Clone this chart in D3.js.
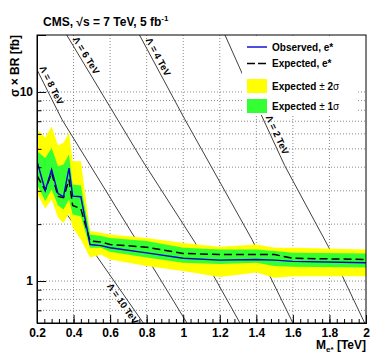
<!DOCTYPE html>
<html>
<head>
<meta charset="utf-8">
<script src="https://cdn.jsdelivr.net/npm/d3@7"></script>
<style>
body { margin: 0; background: #fff; }
text { font-family: "Liberation Sans", Arial, Helvetica, sans-serif; font-weight: bold; fill: #000; }
</style>
</head>
<body>
<div id="chart"></div>
<script>
//Limit data: excited electron mass [TeV] and sigma x BR [fb]
var mass     = [0.2, 0.245, 0.28, 0.315, 0.345, 0.375, 0.395, 0.44, 0.49, 0.55, 0.6, 0.8, 1.0, 1.2, 1.4, 1.5, 1.6, 2.0];
var observed = [4.30, 3.01, 3.89, 2.90, 2.79, 3.96, 2.81, 2.79, 1.56, 1.54, 1.50, 1.41, 1.32, 1.29, 1.30, 1.29, 1.27, 1.25];
var expected = [3.61, 3.02, 3.74, 2.80, 2.76, 3.44, 2.51, 2.41, 1.63, 1.61, 1.56, 1.51, 1.40, 1.38, 1.38, 1.38, 1.32, 1.30];
var oneSigLo = [3.24, 2.65, 3.05, 2.51, 2.39, 2.70, 2.25, 2.20, 1.50, 1.50, 1.43, 1.33, 1.25, 1.23, 1.25, 1.20, 1.19, 1.18];
var oneSigHi = [4.86, 4.48, 5.06, 4.05, 4.13, 4.67, 3.24, 3.20, 1.76, 1.73, 1.69, 1.63, 1.50, 1.47, 1.47, 1.44, 1.41, 1.40];
var twoSigLo = [2.90, 2.42, 2.70, 2.17, 2.03, 2.28, 1.92, 1.66, 1.33, 1.38, 1.30, 1.20, 1.13, 1.05, 1.11, 1.04, 1.06, 1.06];
var twoSigHi = [6.32, 5.74, 6.56, 5.21, 5.38, 6.08, 4.30, 4.30, 1.84, 1.80, 1.76, 1.69, 1.59, 1.52, 1.56, 1.50, 1.50, 1.47];

//Theory curves for each Lambda
var lambdaTeV = [2, 4, 6, 8, 10];
var lambdaMass = [
    [1.2285, 1.3253, 1.5551, 1.7958, 1.9928],
    [0.7607, 1.0096, 1.376, 1.600],
    [0.3625, 0.7728, 1.0643, 1.3105],
    [0.2027, 0.3368, 0.7635, 1.0206],
    [0.2, 0.5266, 0.7815]
];
var lambdaXsec = [
    [20, 12.34, 4.08, 1.51, 0.6],
    [20, 7.14, 1.66, 0.6],
    [20, 4.39, 1.60, 0.6],
    [12.95, 7.14, 1.53, 0.6],
    [3.75, 1.355, 0.6]
];
var lambdaLabelXsec = [5.74, 14.8, 15.0, 10.5, 0.79];

//Axis ticks
var xTicks = [0.2, 0.4, 0.6, 0.8, 1.0, 1.2, 1.4, 1.6, 1.8, 2.0];
var xMinorTicks = d3.range(0.2, 2.001, 0.04);
var yTicks = [1, 10];
var yMinorTicks = [0.6, 0.7, 0.8, 0.9, 2, 3, 4, 5, 6, 7, 8, 9, 20];

//Create SVG dimensions
var svgWidth = 374;
var svgHeight = 359;

var margin = {
    top: 35,
    right: 8,
    bottom: 36,
    left: 37
};

var width = svgWidth - margin.left - margin.right;
var height = svgHeight - margin.top - margin.bottom;

var svg = d3.select("#chart")
    .append("svg")
    .attr("width", svgWidth)
    .attr("height", svgHeight);

var chartGroup = svg.append("g")
    .attr("transform", `translate(${margin.left}, ${margin.top})`);

var xScale = d3.scaleLinear().domain([0.2, 2]).range([0, width]);
var yScale = d3.scaleLog().domain([0.6, 20]).range([height, 0]);

chartGroup.append("clipPath").attr("id", "plotClip")
    .append("rect").attr("width", width).attr("height", height);

//Grid lines
var grid = chartGroup.append("g")
    .attr("stroke", "#8a8a8a")
    .attr("stroke-width", 1)
    .attr("stroke-dasharray", "1,2");

grid.selectAll(".vgrid")
    .data(xTicks.slice(1, -1))
    .enter()
    .append("line")
    .attr("x1", d => xScale(d))
    .attr("x2", d => xScale(d))
    .attr("y1", 0)
    .attr("y2", height);

grid.selectAll(".hgrid")
    .data(yTicks.concat(yMinorTicks).filter(d => d > 0.6 && d < 20))
    .enter()
    .append("line")
    .attr("x1", 0)
    .attr("x2", width)
    .attr("y1", d => yScale(d))
    .attr("y2", d => yScale(d));

//Lambda theory lines
var plotArea = chartGroup.append("g").attr("clip-path", "url(#plotClip)");

var lambdaLine = d3.line()
    .x(d => xScale(d[0]))
    .y(d => yScale(d[1]));

lambdaTeV.forEach(function(lam, i) {
    var pts = lambdaMass[i].map((m, j) => [m, lambdaXsec[i][j]]);
    plotArea.append("path")
        .attr("d", lambdaLine(pts))
        .attr("fill", "none")
        .attr("stroke", "#404040")
        .attr("stroke-width", 1);
});

//Bands
var bandData = mass.map((m, i) => ({m: m, y1: twoSigLo[i], y2: twoSigHi[i], g1: oneSigLo[i], g2: oneSigHi[i]}));

plotArea.append("path")
    .attr("d", d3.area().x(d => xScale(d.m)).y0(d => yScale(d.y1)).y1(d => yScale(d.y2))(bandData))
    .attr("fill", "#ffff00");

plotArea.append("path")
    .attr("d", d3.area().x(d => xScale(d.m)).y0(d => yScale(d.g1)).y1(d => yScale(d.g2))(bandData))
    .attr("fill", "#33ff33");

//Expected and observed limits
var limLine = d3.line().x(d => xScale(d[0])).y(d => yScale(d[1]));

plotArea.append("path")
    .attr("d", limLine(mass.map((m, i) => [m, expected[i]])))
    .attr("fill", "none")
    .attr("stroke", "#000")
    .attr("stroke-width", 1.5)
    .attr("stroke-dasharray", "8,4");

plotArea.append("path")
    .attr("d", limLine(mass.map((m, i) => [m, observed[i]])))
    .attr("fill", "none")
    .attr("stroke", "#0000d0")
    .attr("stroke-width", 1.4);

//Lambda labels along the lines
lambdaTeV.forEach(function(lam, i) {
    var pts = lambdaMass[i].map((m, j) => [xScale(m), yScale(lambdaXsec[i][j])]);
    var ly = yScale(lambdaLabelXsec[i]);
    var k = 0;
    while (k < pts.length - 2 && pts[k + 1][1] < ly) k++;
    var p0 = pts[k], p1 = pts[k + 1];
    var t = (ly - p0[1]) / (p1[1] - p0[1]);
    var lx = p0[0] + t * (p1[0] - p0[0]);
    var ang = Math.atan2(p1[1] - p0[1], p1[0] - p0[0]) * 180 / Math.PI;
    chartGroup.append("text")
        .attr("transform", `translate(${lx}, ${ly}) rotate(${ang})`)
        .attr("text-anchor", "middle")
        .attr("dy", lam === 10 ? "0.95em" : "-0.3em")
        .attr("font-size", "9.5px")
        .text(`Λ = ${lam} TeV`);
});

//Legend
var legend = svg.append("g");
legend.append("rect")
    .attr("x", 242).attr("y", 36)
    .attr("width", 116).attr("height", 79)
    .attr("fill", "#fff");

var legendRows = [
    {y: 47, type: "obs", label: ["Observed, e*"]},
    {y: 63.5, type: "exp", label: ["Expected, e*"]},
    {y: 86, type: "y", label: ["Expected ", "±", " 2", "σ"]},
    {y: 106, type: "g", label: ["Expected ", "±", " 1", "σ"]}
];

legendRows.forEach(function(row) {
    if (row.type === "obs" || row.type === "exp") {
        legend.append("line")
            .attr("x1", 247).attr("x2", 267)
            .attr("y1", row.y).attr("y2", row.y)
            .attr("stroke", row.type === "obs" ? "#0000d0" : "#000")
            .attr("stroke-width", 1.4)
            .attr("stroke-dasharray", row.type === "exp" ? "8,3" : null);
    } else {
        legend.append("rect")
            .attr("x", 247).attr("y", row.y - 7)
            .attr("width", 20).attr("height", 14)
            .attr("fill", row.type === "y" ? "#ffff00" : "#33ff33");
    }
    var txt = legend.append("text")
        .attr("x", 272).attr("y", row.y + 3.5)
        .attr("font-size", "10px");
    row.label.forEach(function(part) {
        txt.append("tspan")
            .attr("font-weight", (part === "±" || part === "σ") ? "normal" : "bold")
            .text(part);
    });
});

//Frame
chartGroup.append("rect")
    .attr("width", width).attr("height", height)
    .attr("fill", "none")
    .attr("stroke", "#000")
    .attr("stroke-width", 1);

//Axes
var bottomAxis = d3.axisBottom(xScale)
    .tickValues(xTicks)
    .tickSize(-8)
    .tickPadding(5)
    .tickFormat(d => String(+d.toFixed(1)));

var xAxis = chartGroup.append("g")
    .attr("transform", `translate(0, ${height})`)
    .call(bottomAxis);

chartGroup.append("g")
    .attr("transform", `translate(0, ${height})`)
    .call(d3.axisBottom(xScale).tickValues(xMinorTicks).tickSize(-4).tickFormat(""));

var leftAxis = d3.axisLeft(yScale)
    .tickValues(yTicks)
    .tickSize(-9)
    .tickPadding(4)
    .tickFormat(d3.format("d"));

var yAxis = chartGroup.append("g")
    .call(leftAxis);

chartGroup.append("g")
    .call(d3.axisLeft(yScale).tickValues(yMinorTicks).tickSize(-4.5).tickFormat(""));

chartGroup.selectAll(".domain").attr("stroke", "#000");
chartGroup.selectAll(".tick line").attr("stroke", "#000");
chartGroup.selectAll(".tick text")
    .attr("font-family", "Liberation Sans, Arial, sans-serif")
    .attr("font-weight", "bold")
    .attr("font-size", "12px")
    .attr("fill", "#000");

//Axis titles
var xTitle = svg.append("text")
    .attr("x", 366).attr("y", 348.5)
    .attr("text-anchor", "end")
    .attr("font-size", "12px");
xTitle.append("tspan").text("M");
xTitle.append("tspan").attr("font-size", "8px").attr("dy", 3).text("e*");
xTitle.append("tspan").attr("dy", -3).text(" [TeV]");

svg.append("text")
    .attr("transform", "translate(19, 35) rotate(-90)")
    .attr("text-anchor", "end")
    .attr("font-size", "12px")
    .text("σ × BR  [fb]");

//Title
var title = svg.append("text")
    .attr("x", 43).attr("y", 25.5)
    .attr("font-size", "12px");
title.append("tspan").text("CMS, √s = 7 TeV, 5 fb");
title.append("tspan").attr("font-size", "8px").attr("dy", -5).text("-1");
</script>
</body>
</html>
